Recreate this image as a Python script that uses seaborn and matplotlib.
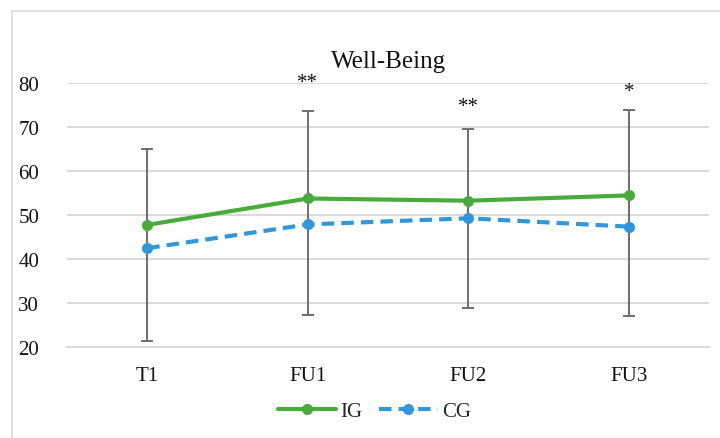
import numpy as np
import pandas as pd
import matplotlib
matplotlib.use("Agg")
import matplotlib.pyplot as plt
from matplotlib.patches import Rectangle
import seaborn as sns

# values
timepoints = ["T1", "FU1", "FU2", "FU3"]
ig_mean = [47.7, 53.7, 53.2, 54.4]
cg_mean = [42.4, 47.8, 49.2, 47.3]
bar_low = [21.2, 27.2, 28.9, 26.9]
bar_high = [64.9, 73.7, 69.5, 73.8]
star_pos = ["FU1", "FU2", "FU3"]
star_text = ["**", "**", "*"]
star_y = [80.0, 74.7, 78.1]

green = "#4aab3d"
blue = "#3098da"
grid_grey = "#d9d9d9"
text_col = "#111111"

sns.set_style("white")
plt.rcParams["font.family"] = ["Liberation Serif", "DejaVu Serif"]

pos = np.arange(len(timepoints))
df = pd.DataFrame({
    "pos": np.concatenate([pos, pos]),
    "score": ig_mean + cg_mean,
    "group": ["IG"] * len(timepoints) + ["CG"] * len(timepoints),
})

fig = plt.figure(figsize=(7.2, 4.39), dpi=100)
ax = fig.add_axes([0.093, 0.208, 0.892, 0.601])

# one grey range bar per time point
mid = (np.array(bar_low) + np.array(bar_high)) / 2
half = (np.array(bar_high) - np.array(bar_low)) / 2
ax.errorbar(pos, mid, yerr=half, fmt="none", ecolor="#6e6e6e",
            elinewidth=1.4, capsize=4, capthick=1.4, zorder=2)

sns.lineplot(data=df, x="pos", y="score", hue="group", style="group",
             hue_order=["IG", "CG"], style_order=["IG", "CG"],
             palette={"IG": green, "CG": blue},
             dashes={"IG": "", "CG": (3.0, 1.7)},
             markers={"IG": "o", "CG": "o"},
             linewidth=3.0, markersize=8, markeredgewidth=0,
             ax=ax, zorder=3)

for p, t, y in zip(star_pos, star_text, star_y):
    ax.text(timepoints.index(p), y, t, ha="center", va="center",
            fontsize=15, color=text_col)

ax.set_xlim(-0.5, len(timepoints) - 0.5)
ax.set_ylim(20, 80)
ax.set_yticks(range(20, 81, 10))
ax.set_xticks(pos)
ax.set_xticklabels(timepoints)
ax.set_xlabel("")
ax.set_ylabel("")
ax.yaxis.grid(True, color=grid_grey, linewidth=1.4)
ax.set_axisbelow(True)
for s in ["top", "right", "left"]:
    ax.spines[s].set_visible(False)
ax.spines["bottom"].set_color(grid_grey)
ax.spines["bottom"].set_linewidth(1.4)
ax.tick_params(axis="both", length=0, labelsize=15, colors=text_col)
ax.tick_params(axis="x", pad=14)
ax.tick_params(axis="y", pad=20)

handles, labels = ax.get_legend_handles_labels()
ax.get_legend().remove()
fig.legend(handles, labels, loc="center", bbox_to_anchor=(0.52, 0.06),
           ncol=2, frameon=False, fontsize=15, handlelength=2.8,
           handletextpad=0.2, columnspacing=0.8)

fig.text(0.54, 0.858, "Well-Being", ha="center", va="center",
         fontsize=18, color=text_col)

fig.patches.append(Rectangle((12 / 720, -0.1), 1.1, 1.0727,
                             transform=fig.transFigure, fill=False,
                             edgecolor=grid_grey, linewidth=1.2))

fig.savefig("out.png", dpi=100)
